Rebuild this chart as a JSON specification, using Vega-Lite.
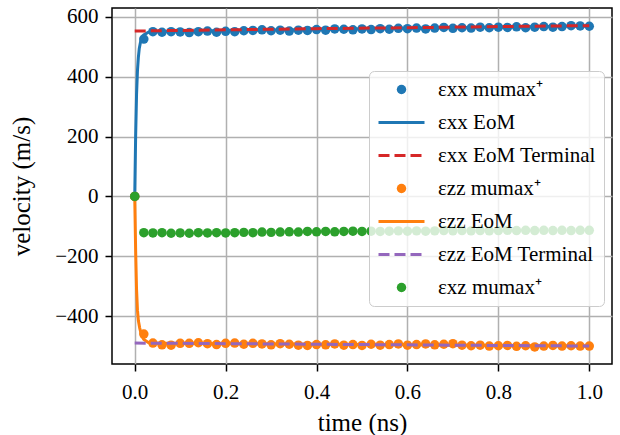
{
  "$schema": "https://vega.github.io/schema/vega-lite/v6.json",
  "autosize": {"type": "none"},
  "padding": {"left": 112, "top": 8, "right": 8, "bottom": 71},
  "width": 500,
  "height": 356,
  "background": "white",
  "config": {
    "view": {"stroke": "black", "strokeWidth": 1.5},
    "axis": {
      "labelFont": "Liberation Serif", "labelFontSize": 21, "labelColor": "black",
      "titleFont": "Liberation Serif", "titleFontSize": 25, "titleFontWeight": "normal", "titleColor": "black",
      "tickColor": "black", "tickWidth": 1.5, "tickSize": 7, "labelPadding": 7,
      "gridColor": "#b0b0b0", "gridWidth": 1.5, "domain": false
    },
    "legend": {
      "labelFont": "Liberation Serif", "labelFontSize": 21, "labelColor": "black", "labelLimit": 400
    }
  },
  "datasets": {
    "mumax": [
      {"s": "εxx mumax⁺", "t": 0.00, "v": 0},
      {"s": "εxx mumax⁺", "t": 0.02, "v": 526},
      {"s": "εxx mumax⁺", "t": 0.04, "v": 551},
      {"s": "εxx mumax⁺", "t": 0.06, "v": 549},
      {"s": "εxx mumax⁺", "t": 0.08, "v": 551},
      {"s": "εxx mumax⁺", "t": 0.10, "v": 550},
      {"s": "εxx mumax⁺", "t": 0.12, "v": 548},
      {"s": "εxx mumax⁺", "t": 0.14, "v": 551},
      {"s": "εxx mumax⁺", "t": 0.16, "v": 553},
      {"s": "εxx mumax⁺", "t": 0.18, "v": 549},
      {"s": "εxx mumax⁺", "t": 0.20, "v": 552},
      {"s": "εxx mumax⁺", "t": 0.22, "v": 551},
      {"s": "εxx mumax⁺", "t": 0.24, "v": 554},
      {"s": "εxx mumax⁺", "t": 0.26, "v": 555},
      {"s": "εxx mumax⁺", "t": 0.28, "v": 557},
      {"s": "εxx mumax⁺", "t": 0.30, "v": 554},
      {"s": "εxx mumax⁺", "t": 0.32, "v": 556},
      {"s": "εxx mumax⁺", "t": 0.34, "v": 553},
      {"s": "εxx mumax⁺", "t": 0.36, "v": 556},
      {"s": "εxx mumax⁺", "t": 0.38, "v": 555},
      {"s": "εxx mumax⁺", "t": 0.40, "v": 558},
      {"s": "εxx mumax⁺", "t": 0.42, "v": 556},
      {"s": "εxx mumax⁺", "t": 0.44, "v": 560},
      {"s": "εxx mumax⁺", "t": 0.46, "v": 559},
      {"s": "εxx mumax⁺", "t": 0.48, "v": 557},
      {"s": "εxx mumax⁺", "t": 0.50, "v": 560},
      {"s": "εxx mumax⁺", "t": 0.52, "v": 558},
      {"s": "εxx mumax⁺", "t": 0.54, "v": 561},
      {"s": "εxx mumax⁺", "t": 0.56, "v": 559},
      {"s": "εxx mumax⁺", "t": 0.58, "v": 562},
      {"s": "εxx mumax⁺", "t": 0.60, "v": 561},
      {"s": "εxx mumax⁺", "t": 0.62, "v": 563},
      {"s": "εxx mumax⁺", "t": 0.64, "v": 560},
      {"s": "εxx mumax⁺", "t": 0.66, "v": 563},
      {"s": "εxx mumax⁺", "t": 0.68, "v": 565},
      {"s": "εxx mumax⁺", "t": 0.70, "v": 562},
      {"s": "εxx mumax⁺", "t": 0.72, "v": 564},
      {"s": "εxx mumax⁺", "t": 0.74, "v": 563},
      {"s": "εxx mumax⁺", "t": 0.76, "v": 566},
      {"s": "εxx mumax⁺", "t": 0.78, "v": 564},
      {"s": "εxx mumax⁺", "t": 0.80, "v": 566},
      {"s": "εxx mumax⁺", "t": 0.82, "v": 565},
      {"s": "εxx mumax⁺", "t": 0.84, "v": 567},
      {"s": "εxx mumax⁺", "t": 0.86, "v": 564},
      {"s": "εxx mumax⁺", "t": 0.88, "v": 566},
      {"s": "εxx mumax⁺", "t": 0.90, "v": 568},
      {"s": "εxx mumax⁺", "t": 0.92, "v": 566},
      {"s": "εxx mumax⁺", "t": 0.94, "v": 568},
      {"s": "εxx mumax⁺", "t": 0.96, "v": 571},
      {"s": "εxx mumax⁺", "t": 0.98, "v": 570},
      {"s": "εxx mumax⁺", "t": 1.00, "v": 569},

      {"s": "εzz mumax⁺", "t": 0.00, "v": 0},
      {"s": "εzz mumax⁺", "t": 0.02, "v": -460},
      {"s": "εzz mumax⁺", "t": 0.04, "v": -490},
      {"s": "εzz mumax⁺", "t": 0.06, "v": -496},
      {"s": "εzz mumax⁺", "t": 0.08, "v": -497},
      {"s": "εzz mumax⁺", "t": 0.10, "v": -491},
      {"s": "εzz mumax⁺", "t": 0.12, "v": -491},
      {"s": "εzz mumax⁺", "t": 0.14, "v": -489},
      {"s": "εzz mumax⁺", "t": 0.16, "v": -492},
      {"s": "εzz mumax⁺", "t": 0.18, "v": -495},
      {"s": "εzz mumax⁺", "t": 0.20, "v": -491},
      {"s": "εzz mumax⁺", "t": 0.22, "v": -490},
      {"s": "εzz mumax⁺", "t": 0.24, "v": -494},
      {"s": "εzz mumax⁺", "t": 0.26, "v": -491},
      {"s": "εzz mumax⁺", "t": 0.28, "v": -493},
      {"s": "εzz mumax⁺", "t": 0.30, "v": -496},
      {"s": "εzz mumax⁺", "t": 0.32, "v": -492},
      {"s": "εzz mumax⁺", "t": 0.34, "v": -494},
      {"s": "εzz mumax⁺", "t": 0.36, "v": -497},
      {"s": "εzz mumax⁺", "t": 0.38, "v": -498},
      {"s": "εzz mumax⁺", "t": 0.40, "v": -495},
      {"s": "εzz mumax⁺", "t": 0.42, "v": -496},
      {"s": "εzz mumax⁺", "t": 0.44, "v": -493},
      {"s": "εzz mumax⁺", "t": 0.46, "v": -497},
      {"s": "εzz mumax⁺", "t": 0.48, "v": -495},
      {"s": "εzz mumax⁺", "t": 0.50, "v": -498},
      {"s": "εzz mumax⁺", "t": 0.52, "v": -494},
      {"s": "εzz mumax⁺", "t": 0.54, "v": -497},
      {"s": "εzz mumax⁺", "t": 0.56, "v": -495},
      {"s": "εzz mumax⁺", "t": 0.58, "v": -493},
      {"s": "εzz mumax⁺", "t": 0.60, "v": -497},
      {"s": "εzz mumax⁺", "t": 0.62, "v": -495},
      {"s": "εzz mumax⁺", "t": 0.64, "v": -493},
      {"s": "εzz mumax⁺", "t": 0.66, "v": -496},
      {"s": "εzz mumax⁺", "t": 0.68, "v": -494},
      {"s": "εzz mumax⁺", "t": 0.70, "v": -492},
      {"s": "εzz mumax⁺", "t": 0.72, "v": -497},
      {"s": "εzz mumax⁺", "t": 0.74, "v": -499},
      {"s": "εzz mumax⁺", "t": 0.76, "v": -497},
      {"s": "εzz mumax⁺", "t": 0.78, "v": -500},
      {"s": "εzz mumax⁺", "t": 0.80, "v": -499},
      {"s": "εzz mumax⁺", "t": 0.82, "v": -498},
      {"s": "εzz mumax⁺", "t": 0.84, "v": -501},
      {"s": "εzz mumax⁺", "t": 0.86, "v": -499},
      {"s": "εzz mumax⁺", "t": 0.88, "v": -503},
      {"s": "εzz mumax⁺", "t": 0.90, "v": -500},
      {"s": "εzz mumax⁺", "t": 0.92, "v": -498},
      {"s": "εzz mumax⁺", "t": 0.94, "v": -500},
      {"s": "εzz mumax⁺", "t": 0.96, "v": -499},
      {"s": "εzz mumax⁺", "t": 0.98, "v": -500},
      {"s": "εzz mumax⁺", "t": 1.00, "v": -500},

      {"s": "εxz mumax⁺", "t": 0.00, "v": 0},
      {"s": "εxz mumax⁺", "t": 0.02, "v": -121},
      {"s": "εxz mumax⁺", "t": 0.04, "v": -122},
      {"s": "εxz mumax⁺", "t": 0.06, "v": -121},
      {"s": "εxz mumax⁺", "t": 0.08, "v": -123},
      {"s": "εxz mumax⁺", "t": 0.10, "v": -122},
      {"s": "εxz mumax⁺", "t": 0.12, "v": -123},
      {"s": "εxz mumax⁺", "t": 0.14, "v": -121},
      {"s": "εxz mumax⁺", "t": 0.16, "v": -122},
      {"s": "εxz mumax⁺", "t": 0.18, "v": -121},
      {"s": "εxz mumax⁺", "t": 0.20, "v": -122},
      {"s": "εxz mumax⁺", "t": 0.22, "v": -121},
      {"s": "εxz mumax⁺", "t": 0.24, "v": -120},
      {"s": "εxz mumax⁺", "t": 0.26, "v": -121},
      {"s": "εxz mumax⁺", "t": 0.28, "v": -119},
      {"s": "εxz mumax⁺", "t": 0.30, "v": -120},
      {"s": "εxz mumax⁺", "t": 0.32, "v": -119},
      {"s": "εxz mumax⁺", "t": 0.34, "v": -118},
      {"s": "εxz mumax⁺", "t": 0.36, "v": -119},
      {"s": "εxz mumax⁺", "t": 0.38, "v": -117},
      {"s": "εxz mumax⁺", "t": 0.40, "v": -118},
      {"s": "εxz mumax⁺", "t": 0.42, "v": -117},
      {"s": "εxz mumax⁺", "t": 0.44, "v": -118},
      {"s": "εxz mumax⁺", "t": 0.46, "v": -117},
      {"s": "εxz mumax⁺", "t": 0.48, "v": -116},
      {"s": "εxz mumax⁺", "t": 0.50, "v": -117},
      {"s": "εxz mumax⁺", "t": 0.52, "v": -116},
      {"s": "εxz mumax⁺", "t": 0.54, "v": -117},
      {"s": "εxz mumax⁺", "t": 0.56, "v": -116},
      {"s": "εxz mumax⁺", "t": 0.58, "v": -115},
      {"s": "εxz mumax⁺", "t": 0.60, "v": -116},
      {"s": "εxz mumax⁺", "t": 0.62, "v": -115},
      {"s": "εxz mumax⁺", "t": 0.64, "v": -116},
      {"s": "εxz mumax⁺", "t": 0.66, "v": -115},
      {"s": "εxz mumax⁺", "t": 0.68, "v": -114},
      {"s": "εxz mumax⁺", "t": 0.70, "v": -115},
      {"s": "εxz mumax⁺", "t": 0.72, "v": -114},
      {"s": "εxz mumax⁺", "t": 0.74, "v": -115},
      {"s": "εxz mumax⁺", "t": 0.76, "v": -114},
      {"s": "εxz mumax⁺", "t": 0.78, "v": -115},
      {"s": "εxz mumax⁺", "t": 0.80, "v": -114},
      {"s": "εxz mumax⁺", "t": 0.82, "v": -113},
      {"s": "εxz mumax⁺", "t": 0.84, "v": -114},
      {"s": "εxz mumax⁺", "t": 0.86, "v": -113},
      {"s": "εxz mumax⁺", "t": 0.88, "v": -114},
      {"s": "εxz mumax⁺", "t": 0.90, "v": -113},
      {"s": "εxz mumax⁺", "t": 0.92, "v": -114},
      {"s": "εxz mumax⁺", "t": 0.94, "v": -113},
      {"s": "εxz mumax⁺", "t": 0.96, "v": -114},
      {"s": "εxz mumax⁺", "t": 0.98, "v": -113},
      {"s": "εxz mumax⁺", "t": 1.00, "v": -113}
    ],
    "eom": [
      {"s": "εxx EoM", "t": 0.000, "v": 0},
      {"s": "εxx EoM", "t": 0.002, "v": 200},
      {"s": "εxx EoM", "t": 0.004, "v": 340},
      {"s": "εxx EoM", "t": 0.006, "v": 420},
      {"s": "εxx EoM", "t": 0.008, "v": 465},
      {"s": "εxx EoM", "t": 0.010, "v": 495},
      {"s": "εxx EoM", "t": 0.013, "v": 518},
      {"s": "εxx EoM", "t": 0.016, "v": 530},
      {"s": "εxx EoM", "t": 0.020, "v": 540},
      {"s": "εxx EoM", "t": 0.030, "v": 549},
      {"s": "εxx EoM", "t": 0.040, "v": 551},
      {"s": "εxx EoM", "t": 0.200, "v": 555},
      {"s": "εxx EoM", "t": 0.400, "v": 558},
      {"s": "εxx EoM", "t": 0.600, "v": 562},
      {"s": "εxx EoM", "t": 0.800, "v": 566},
      {"s": "εxx EoM", "t": 1.000, "v": 570},
      {"s": "εzz EoM", "t": 0.000, "v": 0},
      {"s": "εzz EoM", "t": 0.002, "v": -180},
      {"s": "εzz EoM", "t": 0.004, "v": -310},
      {"s": "εzz EoM", "t": 0.006, "v": -380},
      {"s": "εzz EoM", "t": 0.008, "v": -415},
      {"s": "εzz EoM", "t": 0.011, "v": -440},
      {"s": "εzz EoM", "t": 0.014, "v": -458},
      {"s": "εzz EoM", "t": 0.017, "v": -470},
      {"s": "εzz EoM", "t": 0.020, "v": -478},
      {"s": "εzz EoM", "t": 0.030, "v": -488},
      {"s": "εzz EoM", "t": 0.040, "v": -491},
      {"s": "εzz EoM", "t": 0.200, "v": -492},
      {"s": "εzz EoM", "t": 0.400, "v": -494},
      {"s": "εzz EoM", "t": 0.600, "v": -496},
      {"s": "εzz EoM", "t": 0.800, "v": -498},
      {"s": "εzz EoM", "t": 1.000, "v": -500}
    ],
    "term": [
      {"s": "εxx EoM Terminal", "t": 0.0, "v": 553},
      {"s": "εxx EoM Terminal", "t": 0.2, "v": 557},
      {"s": "εxx EoM Terminal", "t": 0.4, "v": 561},
      {"s": "εxx EoM Terminal", "t": 0.6, "v": 564},
      {"s": "εxx EoM Terminal", "t": 0.8, "v": 568},
      {"s": "εxx EoM Terminal", "t": 1.0, "v": 571},
      {"s": "εzz EoM Terminal", "t": 0.0, "v": -490},
      {"s": "εzz EoM Terminal", "t": 0.5, "v": -495},
      {"s": "εzz EoM Terminal", "t": 1.0, "v": -500}
    ]
  },
  "encoding": {
    "x": {"field": "t", "type": "quantitative",
      "scale": {"domain": [-0.05, 1.05], "nice": false, "zero": false},
      "axis": {"values": [0, 0.2, 0.4, 0.6, 0.8, 1.0], "format": ".1f", "title": "time (ns)", "labelPadding": 10, "titlePadding": 8}},
    "y": {"field": "v", "type": "quantitative",
      "scale": {"domain": [-560, 630], "nice": false, "zero": false},
      "axis": {"values": [-400, -200, 0, 200, 400, 600], "title": "velocity (m/s)", "titlePadding": 20}},
    "color": {"field": "s", "type": "nominal",
      "scale": {
        "domain": ["εxx mumax⁺", "εxx EoM", "εxx EoM Terminal", "εzz mumax⁺", "εzz EoM", "εzz EoM Terminal", "εxz mumax⁺"],
        "range": ["#1f77b4", "#1f77b4", "#d62728", "#ff7f0e", "#ff7f0e", "#9467bd", "#2ca02c"]
      },
      "legend": {
        "title": null, "orient": "none", "legendX": 257, "legendY": 63,
        "fillColor": "rgba(255,255,255,0.8)", "strokeColor": "#cccccc", "cornerRadius": 5,
        "padding": 8, "symbolSize": 2116, "clipHeight": 21, "rowPadding": 11, "labelOffset": 12,
        "symbolType": "stroke", "symbolStrokeWidth": 3,
        "encode": {"symbols": {"update": {
          "shape": {"signal": "test(/mumax/, datum.value) ? 'circle' : 'stroke'"},
          "size": {"signal": "test(/mumax/, datum.value) ? 90 : 2116"},
          "fill": {"scale": "color", "field": "value"},
          "stroke": {"scale": "color", "field": "value"},
          "fillOpacity": {"signal": "test(/mumax/, datum.value) ? 1 : 0"},
          "strokeOpacity": {"signal": "test(/mumax/, datum.value) ? 0 : 1"},
          "strokeWidth": {"value": 3},
          "strokeDash": {"signal": "test(/Terminal/, datum.value) ? [11,5] : [1,0]"},
          "opacity": {"value": 1}
        }}}
      }
    }
  },
  "layer": [
    {"data": {"name": "mumax"}, "transform": [{"filter": "datum.s == 'εxx mumax⁺'"}],
      "mark": {"type": "point", "filled": true, "opacity": 1, "size": 90, "shape": "circle"}},
    {"data": {"name": "eom"}, "transform": [{"filter": "datum.s == 'εxx EoM'"}],
      "mark": {"type": "line", "strokeWidth": 3}},
    {"data": {"name": "term"}, "transform": [{"filter": "datum.s == 'εxx EoM Terminal'"}],
      "mark": {"type": "line", "strokeWidth": 3, "strokeDash": [11, 5]}},
    {"data": {"name": "mumax"}, "transform": [{"filter": "datum.s == 'εzz mumax⁺'"}],
      "mark": {"type": "point", "filled": true, "opacity": 1, "size": 90, "shape": "circle"}},
    {"data": {"name": "eom"}, "transform": [{"filter": "datum.s == 'εzz EoM'"}],
      "mark": {"type": "line", "strokeWidth": 3}},
    {"data": {"name": "term"}, "transform": [{"filter": "datum.s == 'εzz EoM Terminal'"}],
      "mark": {"type": "line", "strokeWidth": 3, "strokeDash": [11, 5]}},
    {"data": {"name": "mumax"}, "transform": [{"filter": "datum.s == 'εxz mumax⁺'"}],
      "mark": {"type": "point", "filled": true, "opacity": 1, "size": 90, "shape": "circle"}}
  ]
}
